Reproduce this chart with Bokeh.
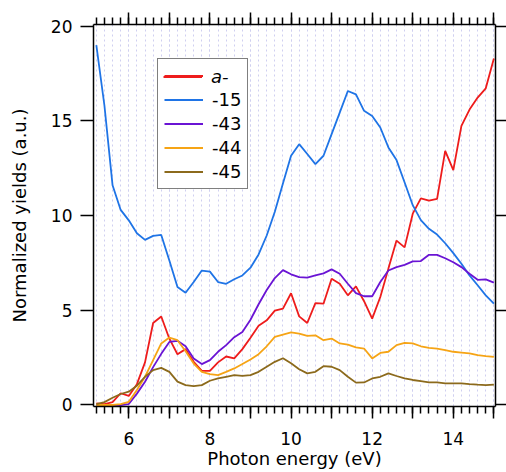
from bokeh.plotting import figure
from bokeh.models import (Legend, LegendItem, SingleIntervalTicker, CustomJSTickFormatter,
                          LinearAxis, Range1d, ColumnDataSource)
from bokeh.embed import file_html
from bokeh.resources import INLINE

energy = [5.2, 5.4, 5.6, 5.8, 6.0, 6.2, 6.4, 6.6, 6.8, 7.0,
          7.2, 7.4, 7.6, 7.8, 8.0, 8.2, 8.4, 8.6, 8.8, 9.0,
          9.2, 9.4, 9.6, 9.8, 10.0, 10.2, 10.4, 10.6, 10.8, 11.0,
          11.2, 11.4, 11.6, 11.8, 12.0, 12.2, 12.4, 12.6, 12.8, 13.0,
          13.2, 13.4, 13.6, 13.8, 14.0, 14.2, 14.4, 14.6, 14.8, 15.0]

y_a = [0.08, 0.05, 0.15, 0.62, 0.48, 1.10, 2.25, 4.33, 4.67, 3.50,
       2.68, 2.95, 2.28, 1.80, 1.80, 2.25, 2.56, 2.46, 2.95, 3.55,
       4.18, 4.47, 4.98, 5.09, 5.90, 4.68, 4.33, 5.38, 5.35, 6.67,
       6.40, 5.79, 6.26, 5.48, 4.56, 5.70, 7.20, 8.68, 8.32, 10.10,
       10.91, 10.79, 10.88, 13.42, 12.40, 14.74, 15.60, 16.23, 16.72, 18.30]

y_15 = [19.00, 15.80, 11.60, 10.30, 9.75, 9.07, 8.72, 8.93, 8.98, 7.63,
        6.23, 5.93, 6.49, 7.10, 7.04, 6.49, 6.40, 6.64, 6.84, 7.25,
        7.95, 8.95, 10.20, 11.70, 13.16, 13.77, 13.25, 12.72, 13.16, 14.30,
        15.44, 16.58, 16.40, 15.53, 15.26, 14.65, 13.60, 12.93, 11.75, 10.55,
        9.76, 9.30, 9.00, 8.54, 8.02, 7.46, 6.84, 6.32, 5.79, 5.35]

y_43 = [0.00, 0.00, 0.00, 0.00, 0.05, 0.60, 1.23, 2.00, 2.70, 3.33,
        3.39, 3.10, 2.45, 2.16, 2.37, 2.81, 3.16, 3.58, 3.86, 4.50,
        5.32, 6.07, 6.70, 7.12, 6.90, 6.75, 6.73, 6.84, 6.95, 7.16,
        6.93, 6.40, 5.91, 5.74, 5.74, 6.49, 7.10, 7.28, 7.40, 7.58,
        7.60, 7.93, 7.93, 7.75, 7.54, 7.28, 6.93, 6.61, 6.63, 6.46]

y_44 = [0.00, 0.00, 0.00, 0.05, 0.17, 0.79, 1.49, 2.37, 3.25, 3.56,
        3.42, 2.84, 2.19, 1.75, 1.63, 1.58, 1.75, 1.93, 2.16, 2.40,
        2.68, 3.10, 3.60, 3.72, 3.83, 3.77, 3.65, 3.68, 3.42, 3.51,
        3.25, 3.19, 3.04, 2.98, 2.46, 2.75, 2.81, 3.16, 3.28, 3.25,
        3.10, 3.02, 2.98, 2.90, 2.81, 2.77, 2.72, 2.63, 2.58, 2.54]

y_45 = [0.05, 0.15, 0.38, 0.58, 0.70, 1.02, 1.49, 1.84, 1.96, 1.75,
        1.23, 1.05, 1.00, 1.05, 1.28, 1.40, 1.49, 1.58, 1.54, 1.58,
        1.75, 2.02, 2.28, 2.47, 2.20, 1.89, 1.67, 1.75, 2.05, 2.02,
        1.84, 1.49, 1.18, 1.19, 1.40, 1.49, 1.67, 1.53, 1.40, 1.32,
        1.26, 1.19, 1.19, 1.14, 1.14, 1.14, 1.10, 1.07, 1.05, 1.08]

labels = ["a-", "-15", "-43", "-44", "-45"]
colors = ["#ee1c1c", "#1f74e6", "#6a14d4", "#f6a415", "#8c6a1c"]
series = [y_a, y_15, y_43, y_44, y_45]

FONT = "DejaVu Sans"
GRID = "#cfcff0"

p = figure(width=506, height=472, output_backend="svg", toolbar_location=None,
           x_range=Range1d(5.13, 15.04), y_range=Range1d(-0.08, 20.09),
           min_border_left=93, min_border_right=11, min_border_top=24,
           min_border_bottom=66)
p.outline_line_color = None
p.background_fill_color = "white"
p.border_fill_color = "white"

# grid
p.ygrid.grid_line_color = None
p.xgrid.ticker = SingleIntervalTicker(interval=1, num_minor_ticks=5)
p.xgrid.grid_line_color = GRID
p.xgrid.grid_line_dash = "2 3"
p.xgrid.grid_line_width = 1
p.xgrid.minor_grid_line_color = GRID
p.xgrid.minor_grid_line_dash = "2 3"
p.xgrid.minor_grid_line_width = 1

# bottom axis
xa = p.xaxis[0]
xa.ticker = SingleIntervalTicker(interval=1, num_minor_ticks=5)
xa.formatter = CustomJSTickFormatter(code="return (Math.round(tick) % 2 === 0) ? tick.toFixed(0) : '';")
xa.axis_label = "Photon energy (eV)"
xa.axis_label_text_font = FONT
xa.axis_label_text_font_size = "18px"
xa.axis_label_text_font_style = "normal"
xa.axis_label_text_color = "black"
xa.axis_label_standoff = 0
xa.major_label_text_font = FONT
xa.major_label_text_font_size = "17px"
xa.major_label_text_color = "black"
xa.major_label_standoff = 13
xa.major_tick_out = 12
xa.major_tick_in = 0
xa.minor_tick_out = 7
xa.minor_tick_in = 0
xa.axis_line_width = 1.5
xa.major_tick_line_width = 1.5
xa.minor_tick_line_width = 1.5
xa.axis_line_color = "black"
xa.major_tick_line_color = "black"
xa.minor_tick_line_color = "black"

# left axis
ya = p.yaxis[0]
ya.ticker = SingleIntervalTicker(interval=5, num_minor_ticks=0)
ya.axis_label = "Normalized yields (a.u.)"
ya.axis_label_text_font = FONT
ya.axis_label_text_font_size = "18px"
ya.axis_label_text_font_style = "normal"
ya.axis_label_text_color = "black"
ya.axis_label_standoff = 18
ya.major_label_text_font = FONT
ya.major_label_text_font_size = "17px"
ya.major_label_text_color = "black"
ya.major_label_standoff = 8
ya.major_tick_out = 13
ya.major_tick_in = 0
ya.minor_tick_out = 0
ya.minor_tick_in = 0
ya.minor_tick_line_color = None
ya.axis_line_width = 1.5
ya.major_tick_line_width = 1.5
ya.axis_line_color = "black"
ya.major_tick_line_color = "black"

# top axis
top = LinearAxis(ticker=SingleIntervalTicker(interval=1, num_minor_ticks=5),
                 formatter=CustomJSTickFormatter(code="return '';"),
                 major_tick_out=12, major_tick_in=0, minor_tick_out=7, minor_tick_in=0,
                 major_label_standoff=0, major_label_text_font_size="0px",
                 axis_line_width=1.5, major_tick_line_width=1.5, minor_tick_line_width=1.5,
                 axis_line_color="black", major_tick_line_color="black",
                 minor_tick_line_color="black")
p.add_layout(top, "above")

# right axis
right = LinearAxis(ticker=SingleIntervalTicker(interval=5, num_minor_ticks=0),
                   formatter=CustomJSTickFormatter(code="return '';"),
                   major_tick_out=11, major_tick_in=0, minor_tick_out=0, minor_tick_in=0,
                   major_label_standoff=0, major_label_text_font_size="0px",
                   axis_line_width=1.5, major_tick_line_width=1.5,
                   axis_line_color="black", major_tick_line_color="black",
                   minor_tick_line_color=None)
p.add_layout(right, "right")

renderers = []
for lab, col, ys in zip(labels, colors, series):
    src = ColumnDataSource(dict(x=energy, y=ys))
    r = p.line("x", "y", source=src, line_color=col, line_width=1.8)
    renderers.append(r)

common = dict(padding=6, margin=0, spacing=3, glyph_width=39, glyph_height=21,
              label_height=21, label_standoff=9, label_text_font=FONT,
              label_text_font_size="18px", label_text_color="black")

items = [LegendItem(label=" ", renderers=[renderers[0]])] + \
        [LegendItem(label=l, renderers=[r]) for l, r in zip(labels[1:], renderers[1:])]
leg = Legend(items=items, location=(64, 217), border_line_color="black",
             border_line_width=1.5, background_fill_color="white",
             background_fill_alpha=1.0, **common)
p.add_layout(leg)

leg_a = Legend(items=[LegendItem(label=labels[0], renderers=[renderers[0]])],
               location=(64, 217 + 129 - 33), border_line_alpha=0,
               background_fill_alpha=0, label_text_font_style="italic", **common)
p.add_layout(leg_a)

open("out.html", "w").write(file_html(p, INLINE))
